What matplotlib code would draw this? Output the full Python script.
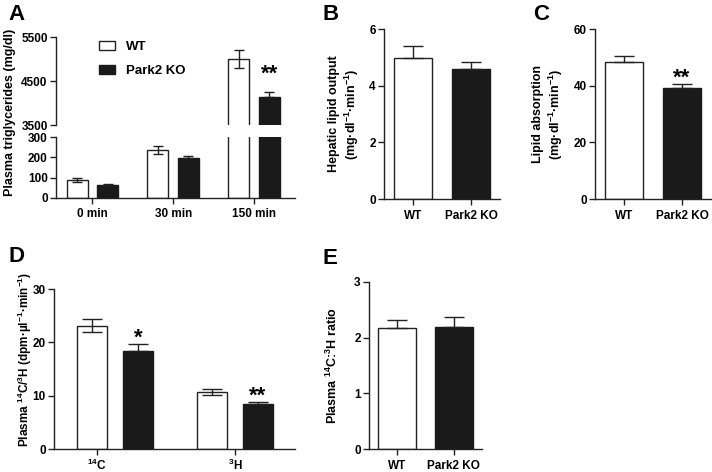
import matplotlib
matplotlib.use("Agg")
import matplotlib.pyplot as plt
import numpy as np
from matplotlib.patches import Patch

plt.rcParams['font.family'] = ['Liberation Sans', 'DejaVu Sans']
plt.rcParams['font.weight'] = 'bold'
plt.rcParams['axes.labelweight'] = 'bold'
plt.rcParams['mathtext.fontset'] = 'custom'
plt.rcParams['mathtext.rm'] = 'Liberation Sans:bold'
plt.rcParams['mathtext.it'] = 'Liberation Sans:bold'
plt.rcParams['mathtext.bf'] = 'Liberation Sans:bold'
plt.rcParams['mathtext.default'] = 'rm'

# ---- data ----
groups = ['WT', 'Park2 KO']
times = ['0 min', '30 min', '150 min']
wt_tg = [90, 235, 5000]
wt_tg_err = [10, 20, 200]
ko_tg = [64, 198, 4140]
ko_tg_err = [4, 9, 110]

hepatic = [4.97, 4.58]
hepatic_err = [0.42, 0.26]

absorption = [48.3, 39.3]
absorption_err = [2.2, 1.2]

isotopes = [r'$^{14}$C', r'$^{3}$H']
wt_iso = [23.1, 10.7]
wt_iso_err = [1.2, 0.6]
ko_iso = [18.4, 8.4]
ko_iso_err = [1.2, 0.35]

ratio = [2.18, 2.20]
ratio_err = [0.14, 0.17]

BLACK = '#1a1a1a'
EDGE = '#222222'
FS = 8.5
LFS = 9

fig = plt.figure(figsize=(7.12, 4.72), dpi=100)

def px(l, r, t, b):
    W, H = 712, 472
    return [l / W, 1 - b / H, (r - l) / W, (b - t) / H]

def style(ax, bottom=True):
    for s in ['top', 'right']:
        ax.spines[s].set_visible(False)
    for s in ['left', 'bottom']:
        ax.spines[s].set_linewidth(1.0)
        ax.spines[s].set_color(EDGE)
    ax.tick_params(direction='out', length=4, width=1.0, labelsize=FS, color=EDGE, pad=2)
    if not bottom:
        ax.spines['bottom'].set_visible(False)
        ax.tick_params(axis='x', bottom=False, labelbottom=False)

# ---- Panel A ----
axAu = fig.add_axes(px(56, 295, 37, 125))
axAl = fig.add_axes(px(56, 295, 137, 198))
x = np.arange(len(times))
off, w = 0.19, 0.26
for ax in (axAu, axAl):
    ax.bar(x - off, wt_tg, w, color='white', edgecolor=EDGE, linewidth=1.0)
    ax.bar(x + off, ko_tg, w, color=BLACK, edgecolor=BLACK, linewidth=1.0)
    ax.errorbar(x - off, wt_tg, yerr=wt_tg_err, fmt='none', ecolor=EDGE, elinewidth=1, capsize=3.5, capthick=1)
    ax.errorbar(x + off, ko_tg, yerr=[np.zeros(3), ko_tg_err], fmt='none', ecolor=EDGE, elinewidth=1, capsize=3.5, capthick=1)
    ax.set_xlim(-0.452, 2.51)
axAu.set_ylim(3500, 5500)
axAu.set_yticks([3500, 4500, 5500])
axAl.set_ylim(0, 300)
axAl.set_yticks([0, 100, 200, 300])
style(axAu, bottom=False)
style(axAl)
axAl.set_xticks(x)
axAl.set_xticklabels(times)
axAl.tick_params(axis='x', pad=3)
axAu.annotate('**', (x[2] + off, ko_tg[2] + ko_tg_err[2]), xytext=(0, 5), textcoords='offset points',
              ha='center', va='bottom', fontsize=16, fontweight='bold')
fig.text(10 / 712, 1 - 112 / 472, 'Plasma triglycerides (mg/dl)', rotation=90, ha='center', va='center',
         fontsize=LFS, fontweight='bold')
leg = axAu.legend(handles=[Patch(facecolor='white', edgecolor=EDGE, linewidth=1, label='WT'),
                           Patch(facecolor=BLACK, edgecolor=BLACK, linewidth=1, label='Park2 KO')],
                  loc='upper left', bbox_to_anchor=(0.13, 1.09), frameon=False, fontsize=9.5,
                  handlelength=1.25, handleheight=0.65, handletextpad=0.8, labelspacing=0.9)
fig.text(8 / 712, 1 - 14 / 472, 'A', fontsize=16, fontweight='bold', va='center')

# ---- two-group panel helper ----
def two_bar(ax, vals, errs, ylim, yticks, up_only=True, capsize=7):
    xx = np.arange(2)
    ax.bar(xx, vals, 0.67, color=['white', BLACK], edgecolor=[EDGE, BLACK], linewidth=1.0)
    lower = np.zeros(2) if up_only else errs
    ax.errorbar(xx, vals, yerr=[lower, errs], fmt='none', ecolor=EDGE, elinewidth=1, capsize=capsize, capthick=1)
    ax.set_xlim(-0.5, 1.5)
    ax.set_ylim(*ylim)
    ax.set_yticks(yticks)
    ax.set_xticks(xx)
    ax.set_xticklabels(groups)
    style(ax)
    ax.tick_params(axis='x', pad=4)

# ---- Panel B ----
axB = fig.add_axes(px(384, 500, 29, 199))
two_bar(axB, hepatic, hepatic_err, (0, 6), [0, 2, 4, 6])
axB.set_ylabel('Hepatic lipid output\n(mg·dl$^{-1}$·min$^{-1}$)', fontsize=LFS, labelpad=6, linespacing=1.2)
fig.text(323 / 712, 1 - 14 / 472, 'B', fontsize=16, fontweight='bold', va='center')

# ---- Panel C ----
axC = fig.add_axes(px(595, 711, 29, 199))
two_bar(axC, absorption, absorption_err, (0, 60), [0, 20, 40, 60])
axC.set_ylabel('Lipid absorption\n(mg·dl$^{-1}$·min$^{-1}$)', fontsize=LFS, labelpad=6, linespacing=1.2)
axC.annotate('**', (1, absorption[1] + absorption_err[1]), xytext=(0, -3), textcoords='offset points',
             ha='center', va='bottom', fontsize=16, fontweight='bold')
fig.text(533 / 712, 1 - 14 / 472, 'C', fontsize=16, fontweight='bold', va='center')

# ---- Panel D ----
axD = fig.add_axes(px(54, 295, 289, 449))
xd = np.arange(len(isotopes))
offd, wd = 0.19, 0.25
axD.bar(xd - offd, wt_iso, wd, color='white', edgecolor=EDGE, linewidth=1.0)
axD.bar(xd + offd, ko_iso, wd, color=BLACK, edgecolor=BLACK, linewidth=1.0)
axD.errorbar(xd - offd, wt_iso, yerr=wt_iso_err, fmt='none', ecolor=EDGE, elinewidth=1, capsize=7, capthick=1)
axD.errorbar(xd + offd, ko_iso, yerr=[np.zeros(2), ko_iso_err], fmt='none', ecolor=EDGE, elinewidth=1, capsize=7, capthick=1)
axD.set_xlim(-0.51, 1.5)
axD.set_ylim(0, 30)
axD.set_yticks([0, 10, 20, 30])
tick_shift = np.array([-0.15, 0.0])
axD.set_xticks(xd + tick_shift)
axD.set_xticklabels(isotopes)
style(axD)
axD.set_ylabel('Plasma $^{14}$C/$^{3}$H (dpm·µl$^{-1}$·min$^{-1}$)', fontsize=8.5)
axD.yaxis.set_label_coords(-0.085, 0.56)
for xi, v, e, s in [(xd[0] + offd, ko_iso[0], ko_iso_err[0], '*'), (xd[1] + offd, ko_iso[1], ko_iso_err[1], '**')]:
    axD.annotate(s, (xi, v + e), xytext=(0, -3), textcoords='offset points',
                 ha='center', va='bottom', fontsize=16, fontweight='bold')
fig.text(8 / 712, 1 - 256 / 472, 'D', fontsize=16, fontweight='bold', va='center')

# ---- Panel E ----
axE = fig.add_axes(px(369, 482, 282, 449))
two_bar(axE, ratio, ratio_err, (0, 3), [0, 1, 2, 3])
axE.set_ylabel('Plasma $^{14}$C:$^{3}$H ratio', fontsize=LFS, labelpad=10)
fig.text(323 / 712, 1 - 258 / 472, 'E', fontsize=16, fontweight='bold', va='center')

fig.savefig('out.png', dpi=100)
